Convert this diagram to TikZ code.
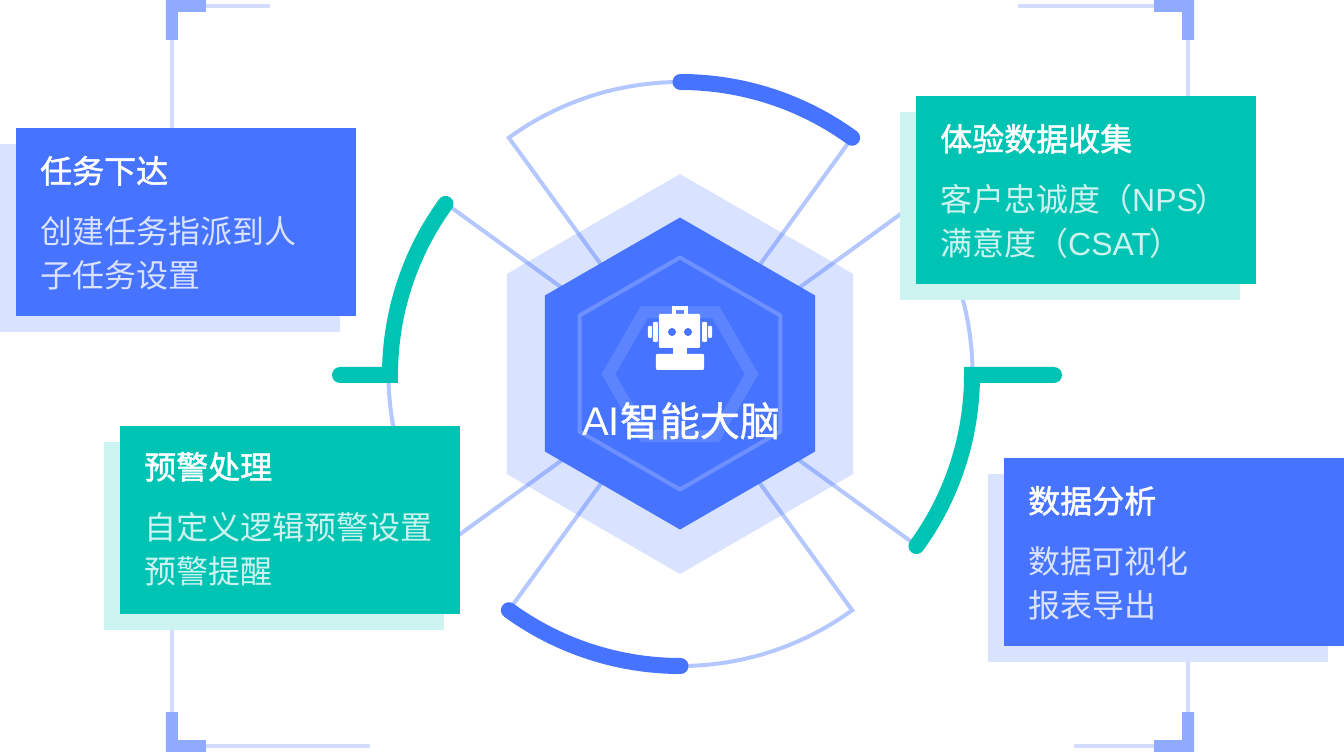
\documentclass[tikz,border=0pt]{standalone}
\usepackage{fontspec}
\setmainfont{Noto Sans CJK SC}
\newfontfamily\titlefont[FakeBold=1.5]{Noto Sans CJK SC}
\newfontfamily\brainfont[FakeBold=1]{Noto Sans CJK SC}
\newfontfamily\latinfont{Liberation Sans}
\usetikzlibrary{calc,shapes.geometric}

\definecolor{mainblue}{HTML}{4673FF}
\definecolor{paleblue}{HTML}{D9E2FF}
\definecolor{ringblue}{HTML}{6E90FF}
\definecolor{coreblue}{HTML}{5D84FF}
\definecolor{mainteal}{HTML}{00C4B3}
\definecolor{paleteal}{HTML}{CCF3EF}
\definecolor{cornerblue}{HTML}{8FAAFF}
\definecolor{hairblue}{HTML}{D3DCFF}

\tikzset{
  hex/.style={regular polygon,regular polygon sides=6,inner sep=0pt,outer sep=0pt},
  sector/.style={draw=mainblue,draw opacity=0.4,line width=4pt,line join=miter},
  thickarc/.style={line width=16pt,line cap=round,line join=miter},
  hairline/.style={draw=hairblue,line width=4pt},
  bracket/.style={fill=cornerblue},
  card/.style={rectangle,anchor=north west,minimum width=340pt,minimum height=188pt,inner sep=0pt,outer sep=0pt},
  cardtitle/.style={anchor=base west,inner sep=0pt,text=white,font=\fontsize{32}{32}\titlefont},
  cardbody/.style={anchor=base west,inner sep=0pt,font=\fontsize{32}{32}\selectfont},
}

\begin{document}
\begin{tikzpicture}[x=1pt,y=1pt]
    \useasboundingbox (-680,374) rectangle (664,-378);

    % corner marks
    \draw[hairline] (-508,334) -- (-508,240);
    \draw[hairline] (-474,368) -- (-410,368);
    \draw[hairline] (508,334) -- (508,270);
    \draw[hairline] (474,368) -- (338,368);
    \draw[hairline] (-508,-338) -- (-508,-250);
    \draw[hairline] (-474,-372) -- (-310,-372);
    \draw[hairline] (508,-338) -- (508,-280);
    \draw[hairline] (474,-372) -- (394,-372);
    \fill[bracket] (-514,374) -| (-474,362) -| (-502,334) -| cycle;
    \fill[bracket] (514,374) -| (474,362) -| (502,334) -| cycle;
    \fill[bracket] (-514,-378) -| (-474,-366) -| (-502,-338) -| cycle;
    \fill[bracket] (514,-378) -| (474,-366) -| (502,-338) -| cycle;

    % sectors behind the hexagons
    \coordinate (c) at (0.5,0);
    \node (hexOuter) at (0,0) [hex,shape border rotate=30,fill=paleblue,minimum size=400pt] {};
    \draw[sector] (c) -- ++(54:292) arc[start angle=54,end angle=126,radius=292] -- cycle;
    \draw[sector] (c) -- ++(36:292) arc[start angle=36,end angle=-36,radius=292] -- cycle;
    \draw[sector] (c) -- ++(234:292) arc[start angle=234,end angle=306,radius=292] -- cycle;
    \draw[sector] (c) -- ++(144:292) arc[start angle=144,end angle=216,radius=292] -- cycle;

    % thick arcs
    \draw[thickarc,draw=mainblue] (0.5,292) arc[start angle=90,end angle=54,radius=292];
    \draw[thickarc,draw=mainblue] (0.5,-292) arc[start angle=270,end angle=234,radius=292];
    \draw[thickarc,draw=mainteal] (-340,-1) -- (-290,-1) arc[start angle=180,end angle=144,radius=291];
    \draw[thickarc,draw=mainteal] (374,-1) -- (292,-1) arc[start angle=0,end angle=-36,radius=291];

    % centre
    \node (hexMain) at (0,0.5) [hex,shape border rotate=30,fill=mainblue,minimum size=312pt] {};
    \node (hexRing) at (0,0.5) [hex,shape border rotate=30,draw=ringblue,line width=4pt,minimum size=232pt] {};
    \node (hexCore) at (0,0) [hex,draw=coreblue,line width=12pt,minimum size=143pt] {};

    % robot
    \draw[white,line width=4pt] (-6,60) -- (-6,66) -- (6,66) -- (6,60);
    \fill[white,rounded corners=1pt] (-21,60) rectangle (20,26);
    \fill[white] (-7,27) rectangle (7,19);
    \fill[white,rounded corners=1pt] (-24,20) rectangle (24,4);
    \fill[mainblue] (-8,42) circle (4);
    \fill[mainblue] (8,42) circle (4);
    \fill[white,rounded corners=1pt] (-27,52) rectangle (-22,32);
    \fill[white,rounded corners=1pt] (-32,48) rectangle (-28,36);
    \fill[white,rounded corners=1pt] (22,52) rectangle (27,32);
    \fill[white,rounded corners=1pt] (28,48) rectangle (32,36);
    \node (brain) at (1,-62) [anchor=base,inner sep=0pt,text=white,font=\fontsize{40}{40}\brainfont] {{\latinfont AI}智能大脑};

    % cards
    \node (taskShadow) at (-680,230) [card,fill=paleblue] {};
    \node (task) at (-664,246) [card,fill=mainblue] {};
    \node at ($(task.north west)+(24,-55)$) [cardtitle] {任务下达};
    \node at ($(task.north west)+(24,-116)$) [cardbody,text=paleblue] {创建任务指派到人};
    \node at ($(task.north west)+(24,-160)$) [cardbody,text=paleblue] {子任务设置};

    \node (collectShadow) at (220,262) [card,fill=paleteal] {};
    \node (collect) at (236,278) [card,fill=mainteal] {};
    \node at ($(collect.north west)+(24,-55)$) [cardtitle] {体验数据收集};
    \node at ($(collect.north west)+(24,-116)$) [cardbody,text=paleteal] {客户忠诚度（{\latinfont NPS}\kern-2pt）};
    \node at ($(collect.north west)+(24,-160)$) [cardbody,text=paleteal] {满意度（{\latinfont CSAT}\kern-2pt）};

    \node (warnShadow) at (-576,-68) [card,fill=paleteal] {};
    \node (warn) at (-560,-52) [card,fill=mainteal] {};
    \node at ($(warn.north west)+(24,-53)$) [cardtitle] {预警处理};
    \node at ($(warn.north west)+(24,-113)$) [cardbody,text=paleteal] {自定义逻辑预警设置};
    \node at ($(warn.north west)+(24,-157)$) [cardbody,text=paleteal] {预警提醒};

    \node (analyzeShadow) at (308,-100) [card,fill=paleblue] {};
    \node (analyze) at (324,-84) [card,fill=mainblue] {};
    \node at ($(analyze.north west)+(24,-55)$) [cardtitle] {数据分析};
    \node at ($(analyze.north west)+(24,-115)$) [cardbody,text=paleblue] {数据可视化};
    \node at ($(analyze.north west)+(24,-159)$) [cardbody,text=paleblue] {报表导出};
\end{tikzpicture}
\end{document}
